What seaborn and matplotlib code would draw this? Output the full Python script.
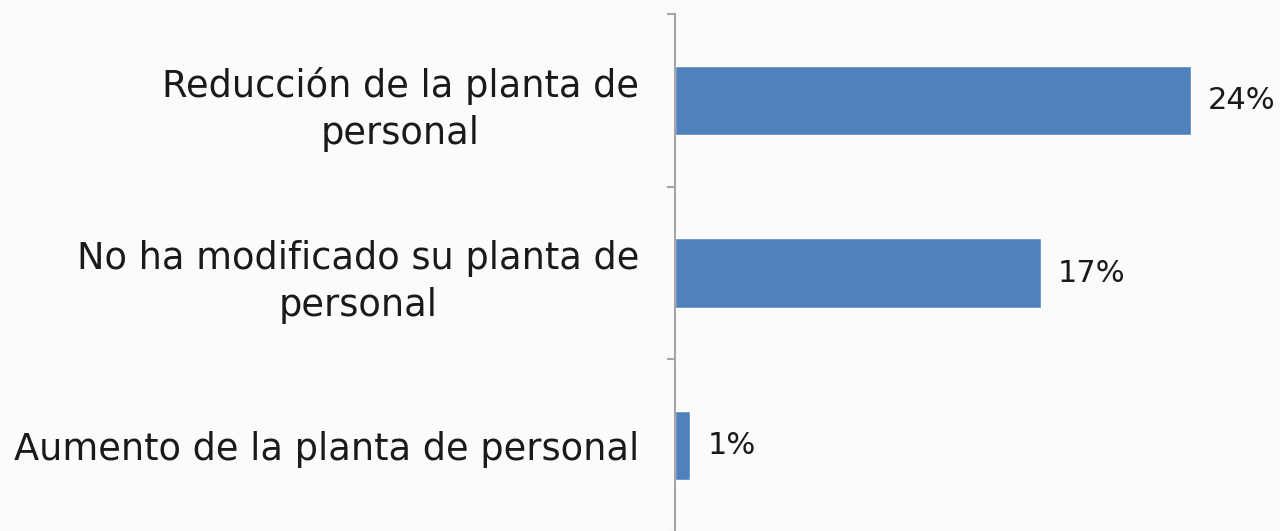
import matplotlib
matplotlib.use("Agg")
import matplotlib.pyplot as plt
import seaborn as sns
import pandas as pd

# data
categorias = ["Reducción de la planta de\npersonal",
              "No ha modificado su planta de\npersonal",
              "Aumento de la planta de personal"]
valores = [24, 17, 0.7]
etiquetas = ["24%", "17%", "1%"]

df = pd.DataFrame({"categoria": categorias, "valor": valores})

sns.set_style("white")
plt.rcParams['font.family'] = ['DejaVu Sans']

fig = plt.figure(figsize=(12.8, 5.31), dpi=100, facecolor="#fbfbfb")
ax = fig.add_axes([675 / 1280, -1 / 531, 605 / 1280, 518 / 531])
ax.set_facecolor("#fbfbfb")

sns.barplot(data=df, x="valor", y="categoria", orient="h", color="#4f81bd",
            saturation=1, width=0.4, ax=ax)

ax.set_xlim(0, 605 / 21.5)
ax.set_ylim(2.5, -0.5)

# category labels on minor ticks, boundary tick marks on major ticks
ax.set_yticks([-0.5, 0.5, 1.5, 2.5])
ax.set_yticklabels([])
ax.set_yticks([0, 1, 2], minor=True)
ax.set_yticklabels(categorias, minor=True, fontsize=26.5, color="#1a1a1a")
for t in ax.get_yticklabels(minor=True):
    t.set_multialignment("center")
    t.set_linespacing(1.35)
ax.tick_params(axis="y", which="major", length=6, width=1.5, color="#a6a6a6", left=True)
ax.tick_params(axis="y", which="minor", length=0, pad=26)

ax.set_xticks([])
ax.set_xlabel("")
ax.set_ylabel("")
for s in ["top", "right", "bottom"]:
    ax.spines[s].set_visible(False)
ax.spines["left"].set_color("#a6a6a6")
ax.spines["left"].set_linewidth(1.5)

for i, (v, lab) in enumerate(zip(valores, etiquetas)):
    ax.text(v + 0.8, i, lab, va="center", ha="left", fontsize=22, color="#1a1a1a",
            clip_on=False)

fig.savefig("out.png", dpi=100, facecolor=fig.get_facecolor())
